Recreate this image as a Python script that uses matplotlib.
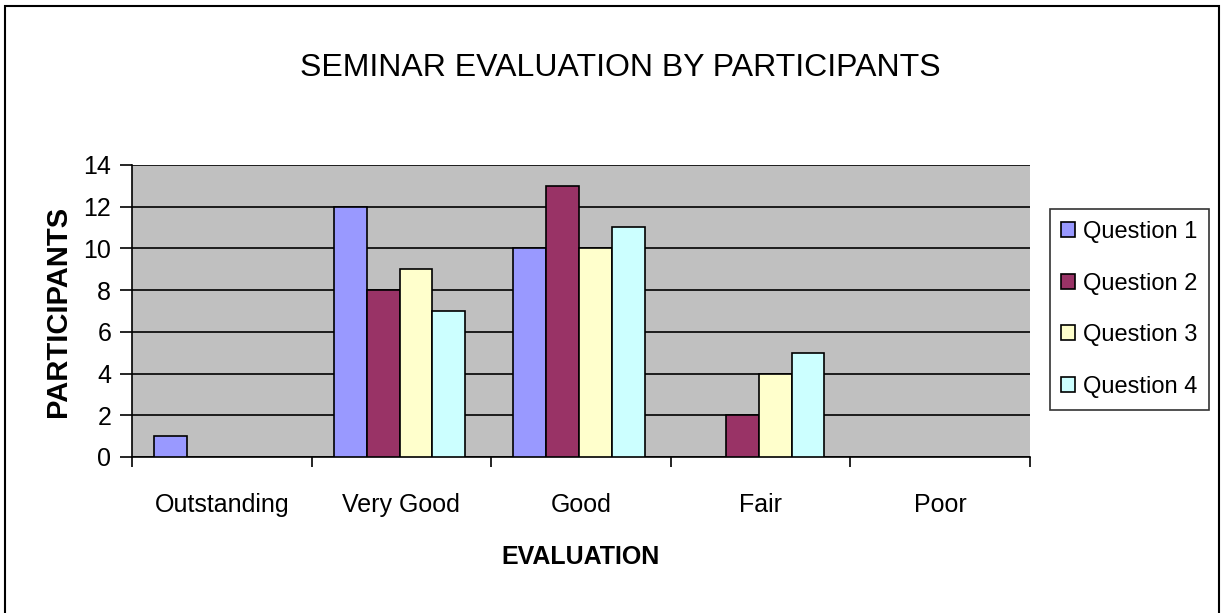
import numpy as np
import matplotlib

matplotlib.use("Agg")
import matplotlib.pyplot as plt
from matplotlib.patches import Rectangle

# ---------------------------------------------------------------------------
# Data
# ---------------------------------------------------------------------------
categories = ["Outstanding", "Very Good", "Good", "Fair", "Poor"]
series_names = ["Question 1", "Question 2", "Question 3", "Question 4"]
q1 = [1, 12, 10, 0, 0]
q2 = [0, 8, 13, 2, 0]
q3 = [0, 9, 10, 4, 0]
q4 = [0, 7, 11, 5, 0]
yticks = [0, 2, 4, 6, 8, 10, 12, 14]

colors = ["#9999FF", "#993366", "#FFFFCC", "#CCFFFF"]

plt.rcParams["font.family"] = ["Liberation Sans", "DejaVu Sans"]

fig = plt.figure(figsize=(12.23, 6.13), dpi=100)
ax = fig.add_axes([0.108, 0.2545, 0.734, 0.4765])
ax.set_facecolor("#C0C0C0")

x = np.arange(len(categories))
width = 0.183
for i, (vals, name, col) in enumerate(zip([q1, q2, q3, q4], series_names, colors)):
    offs = (i - 1.5) * width - 0.01
    heights = [v if v > 0 else np.nan for v in vals]
    ax.bar(x + offs, heights, width, color=col, edgecolor="black",
           linewidth=1.2, label=name, zorder=3)

ax.set_xlim(-0.5, len(categories) - 0.5)
ax.set_ylim(0, 14)
ax.set_yticks(yticks)
ax.yaxis.grid(True, color="black", linewidth=1.2, zorder=1)
ax.set_axisbelow(True)

# category boundaries as ticks, labels centered
ax.set_xticks(np.arange(len(categories) + 1) - 0.5)
ax.set_xticklabels([])
ax.set_xticks(x, minor=True)
ax.set_xticklabels(categories, minor=True, fontsize=18)
ax.tick_params(axis="x", which="minor", length=0, pad=26)
ax.tick_params(axis="x", which="major", length=7, width=1.2, direction="out")
ax.tick_params(axis="y", length=9, width=1.2, labelsize=18, pad=6)

for s in ["top", "right"]:
    ax.spines[s].set_visible(False)
ax.spines["left"].set_linewidth(1.2)
ax.spines["bottom"].set_linewidth(1.2)

ax.set_ylabel("PARTICIPANTS", fontsize=21, fontweight="bold", labelpad=8)
ax.set_xlabel("EVALUATION", fontsize=18, fontweight="bold", labelpad=20)

fig.text(0.507, 0.889, "SEMINAR EVALUATION BY PARTICIPANTS", fontsize=23,
         ha="center", va="center")

leg = ax.legend(loc="center left", bbox_to_anchor=(1.022, 0.505), fontsize=17,
                frameon=True, fancybox=False, edgecolor="black",
                handlelength=0.6, handleheight=0.6, handletextpad=0.3,
                labelspacing=1.25, borderpad=0.5, borderaxespad=0)
leg.get_frame().set_linewidth(1.2)

# outer chart border
fig.patches.append(Rectangle((0.004, -0.01), 0.993, 1.0, transform=fig.transFigure,
                             fill=False, edgecolor="black", linewidth=1.5))

fig.savefig("out.png", dpi=100)
